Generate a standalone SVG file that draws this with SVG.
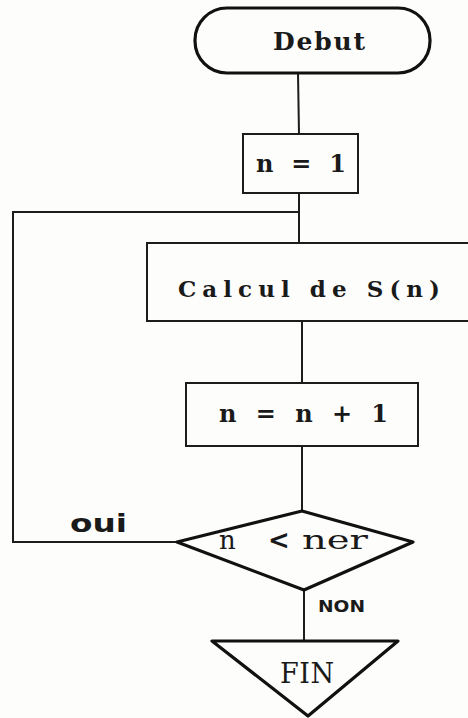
<svg xmlns="http://www.w3.org/2000/svg" width="468" height="718" viewBox="0 0 468 718">
<style>
.bg{fill:#fdfdfb}
.box{fill:none;stroke:#1c1c1c;stroke-width:2}
.thick{fill:none;stroke:#111;stroke-width:3.2;stroke-linejoin:round}
.ln{fill:none;stroke:#1c1c1c;stroke-width:2}
.t{font-family:"DejaVu Serif","Liberation Serif",serif;font-weight:bold;fill:#1a1a1a}
.r{font-family:"DejaVu Serif","Liberation Serif",serif;font-weight:normal;fill:#1a1a1a}
.h{font-family:"DejaVu Sans","Liberation Sans",sans-serif;font-weight:bold;fill:#1a1a1a}
</style>
<rect class="bg" x="0" y="0" width="468" height="718"/>
<g id="connectors">
<polyline class="ln" points="298,73 299,134"/>
<polyline class="ln" points="299,193 299,243"/>
<polyline class="ln" points="302,321 302,383"/>
<polyline class="ln" points="302,446 302,511"/>
<polyline class="ln" points="304,590 304,641"/>
<polyline class="ln" points="177,542 13,542 13,212 299,212"/>
<text class="h" x="70" y="532" font-size="25" textLength="57" lengthAdjust="spacingAndGlyphs">oui</text>
<text class="h" x="318" y="612" font-size="15" textLength="47" lengthAdjust="spacingAndGlyphs">NON</text>
</g>
<g id="debut">
<rect class="thick" x="195" y="8" width="235" height="65" rx="32" ry="32"/>
<text class="t" x="273" y="50" font-size="25" textLength="92" lengthAdjust="spacing">Debut</text>
</g>
<g id="init">
<rect class="box" x="243" y="134" width="115" height="59"/>
<text class="t" x="256" y="172" font-size="24" textLength="90" lengthAdjust="spacing">n = 1</text>
</g>
<g id="calcul">
<rect class="box" x="147" y="243" width="330" height="78"/>
<text class="r" x="178" y="297" font-size="23" textLength="262" lengthAdjust="spacing" style="font-weight:600">Calcul de S(n)</text>
</g>
<g id="incr">
<rect class="box" x="186" y="383" width="232" height="63"/>
<text class="t" x="219" y="422" font-size="24" textLength="169" lengthAdjust="spacing">n = n + 1</text>
</g>
<g id="test">
<polygon class="thick" points="177,542 302,511 413,542 304,590"/>
<text class="r" y="549" font-size="26"><tspan x="219">n</tspan> <tspan x="268" font-weight="bold" font-family="DejaVu Sans, sans-serif">&lt;</tspan> <tspan x="302" textLength="66" lengthAdjust="spacingAndGlyphs">ner</tspan></text>
</g>
<g id="fin">
<polygon class="thick" points="212,641 398,641 308,716"/>
<text class="r" x="280" y="683" font-size="27" textLength="54" lengthAdjust="spacing">FIN</text>
</g>
</svg>
